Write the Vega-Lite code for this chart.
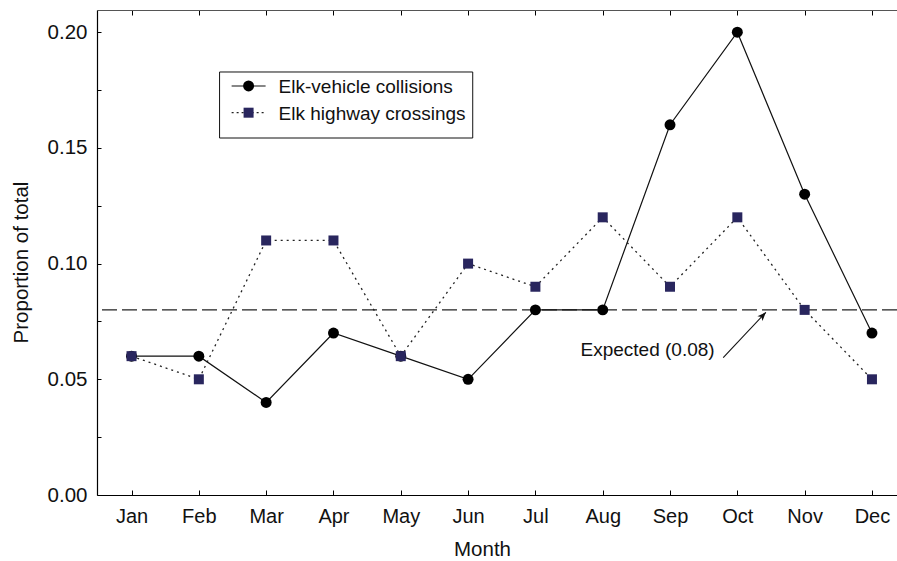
{
  "$schema": "https://vega.github.io/schema/vega-lite/v6.json",
  "width": 800,
  "height": 485,
  "autosize": {"type": "none"},
  "padding": {"left": 97, "top": 10, "right": 0, "bottom": 66},
  "background": "white",
  "config": {
    "view": {"stroke": null},
    "font": "Liberation Sans",
    "axis": {"grid": false, "domainColor": "#000", "tickColor": "#000", "labelColor": "#111", "titleColor": "#111", "labelFont": "Liberation Sans", "titleFont": "Liberation Sans", "titleFontWeight": "normal", "labelFontSize": 20, "titleFontSize": 20.5, "domainWidth": 1.2, "tickWidth": 1}
  },
  "datasets": {
    "months": [
      {"month": "Jan", "m": 1, "collisions": 0.06, "crossings": 0.06},
      {"month": "Feb", "m": 2, "collisions": 0.06, "crossings": 0.05},
      {"month": "Mar", "m": 3, "collisions": 0.04, "crossings": 0.11},
      {"month": "Apr", "m": 4, "collisions": 0.07, "crossings": 0.11},
      {"month": "May", "m": 5, "collisions": 0.06, "crossings": 0.06},
      {"month": "Jun", "m": 6, "collisions": 0.05, "crossings": 0.10},
      {"month": "Jul", "m": 7, "collisions": 0.08, "crossings": 0.09},
      {"month": "Aug", "m": 8, "collisions": 0.08, "crossings": 0.12},
      {"month": "Sep", "m": 9, "collisions": 0.16, "crossings": 0.09},
      {"month": "Oct", "m": 10, "collisions": 0.20, "crossings": 0.12},
      {"month": "Nov", "m": 11, "collisions": 0.13, "crossings": 0.08},
      {"month": "Dec", "m": 12, "collisions": 0.07, "crossings": 0.05}
    ],
    "legend": [
      {"series": "collisions", "label": "Elk-vehicle collisions", "y": 0.17676, "x1": 2.487, "x2": 2.992, "xs": 2.739, "xt": 3.185},
      {"series": "crossings", "label": "Elk highway crossings", "y": 0.16522, "x1": 2.487, "x2": 2.992, "xs": 2.739, "xt": 3.185}
    ],
    "legendbox": [{"x1": 2.308, "x2": 6.069, "y1": 0.15428, "y2": 0.18281}],
    "annot": [{"label": "Expected (0.08)", "x": 7.67, "y": 0.06007, "ax": 9.79, "ay": 0.05934, "hx": 10.424, "hy": 0.07896, "expected": 0.08}]
  },
  "data": {"name": "months"},
  "resolve": {"axis": {"x": "independent"}},
  "layer": [
    {
      "data": {"name": "annot"},
      "mark": {"type": "rule", "color": "#222", "strokeWidth": 1.2, "strokeDash": [15, 5]},
      "encoding": {
        "y": {"field": "expected", "type": "quantitative", "scale": {"domain": [0, 0.2096], "nice": false, "zero": false},
          "axis": {"values": [0, 0.025, 0.05, 0.075, 0.1, 0.125, 0.15, 0.175, 0.2], "labelExpr": "round(datum.value*40)%2==0 ? format(datum.value, '.2f') : ''", "tickSize": -4, "labelPadding": 14, "labelFontSize": 20.5, "title": "Proportion of total", "titlePadding": 16, "titleY": 252}
        }
      }
    },
    {
      "mark": {"type": "line", "color": "#111", "strokeWidth": 1.2},
      "encoding": {
        "x": {"field": "m", "type": "quantitative", "scale": {"domain": [0.487, 12.372], "nice": false, "zero": false},
          "axis": {"orient": "bottom", "values": [1,2,3,4,5,6,7,8,9,10,11,12], "labelExpr": "['Jan','Feb','Mar','Apr','May','Jun','Jul','Aug','Sep','Oct','Nov','Dec'][datum.value-1]", "tickSize": -5, "labelPadding": 16, "title": "Month", "titlePadding": 13, "titleX": 385}
        },
        "y": {"field": "collisions", "type": "quantitative"}
      }
    },
    {
      "mark": {"type": "point", "shape": "circle", "filled": true, "color": "#000", "size": 120, "opacity": 1},
      "encoding": {
        "x": {"field": "m", "type": "quantitative", "axis": {"orient": "top", "values": [1,2,3,4,5,6,7,8,9,10,11,12], "labels": false, "tickSize": -5, "title": null, "domainColor": "#555"}},
        "y": {"field": "collisions", "type": "quantitative"}
      }
    },
    {
      "mark": {"type": "line", "color": "#222", "strokeWidth": 1.3, "strokeDash": [2, 4]},
      "encoding": {
        "x": {"field": "m", "type": "quantitative", "axis": null},
        "y": {"field": "crossings", "type": "quantitative"}
      }
    },
    {
      "mark": {"type": "point", "shape": "square", "filled": true, "color": "#29265e", "size": 100, "opacity": 1},
      "encoding": {
        "x": {"field": "m", "type": "quantitative", "axis": null},
        "y": {"field": "crossings", "type": "quantitative"}
      }
    },
    {
      "data": {"name": "annot"},
      "mark": {"type": "text", "align": "left", "baseline": "alphabetic", "fontSize": 19, "color": "#111"},
      "encoding": {
        "x": {"field": "x", "type": "quantitative", "axis": null},
        "y": {"field": "y", "type": "quantitative"},
        "text": {"field": "label"}
      }
    },
    {
      "data": {"name": "annot"},
      "mark": {"type": "rule", "color": "#111", "strokeWidth": 1.1},
      "encoding": {
        "x": {"field": "ax", "type": "quantitative", "axis": null},
        "y": {"field": "ay", "type": "quantitative"},
        "x2": {"field": "hx"},
        "y2": {"field": "hy"}
      }
    },
    {
      "data": {"name": "annot"},
      "mark": {"type": "point", "shape": "M0,0 L-0.4,1 L0,0.75 L0.4,1 Z", "filled": true, "color": "#111", "size": 300, "angle": 43, "opacity": 1},
      "encoding": {
        "x": {"field": "hx", "type": "quantitative", "axis": null},
        "y": {"field": "hy", "type": "quantitative"}
      }
    },
    {
      "data": {"name": "legendbox"},
      "mark": {"type": "rect", "fill": "white", "stroke": "#111", "strokeWidth": 1},
      "encoding": {
        "x": {"field": "x1", "type": "quantitative", "axis": null},
        "x2": {"field": "x2"},
        "y": {"field": "y1", "type": "quantitative"},
        "y2": {"field": "y2"}
      }
    },
    {
      "data": {"name": "legend"},
      "transform": [{"filter": "datum.series == 'collisions'"}],
      "mark": {"type": "rule", "color": "#111", "strokeWidth": 1.2},
      "encoding": {
        "x": {"field": "x1", "type": "quantitative", "axis": null},
        "x2": {"field": "x2"},
        "y": {"field": "y", "type": "quantitative"}
      }
    },
    {
      "data": {"name": "legend"},
      "transform": [{"filter": "datum.series == 'crossings'"}],
      "mark": {"type": "rule", "color": "#222", "strokeWidth": 1.3, "strokeDash": [2, 3]},
      "encoding": {
        "x": {"field": "x1", "type": "quantitative", "axis": null},
        "x2": {"field": "x2"},
        "y": {"field": "y", "type": "quantitative"}
      }
    },
    {
      "data": {"name": "legend"},
      "transform": [{"filter": "datum.series == 'collisions'"}],
      "mark": {"type": "point", "shape": "circle", "filled": true, "color": "#000", "size": 120, "opacity": 1},
      "encoding": {
        "x": {"field": "xs", "type": "quantitative", "axis": null},
        "y": {"field": "y", "type": "quantitative"}
      }
    },
    {
      "data": {"name": "legend"},
      "transform": [{"filter": "datum.series == 'crossings'"}],
      "mark": {"type": "point", "shape": "square", "filled": true, "color": "#29265e", "size": 100, "opacity": 1},
      "encoding": {
        "x": {"field": "xs", "type": "quantitative", "axis": null},
        "y": {"field": "y", "type": "quantitative"}
      }
    },
    {
      "data": {"name": "legend"},
      "mark": {"type": "text", "align": "left", "baseline": "middle", "fontSize": 19, "color": "#111", "dy": 1},
      "encoding": {
        "x": {"field": "xt", "type": "quantitative", "axis": null},
        "y": {"field": "y", "type": "quantitative"},
        "text": {"field": "label"}
      }
    }
  ]
}
